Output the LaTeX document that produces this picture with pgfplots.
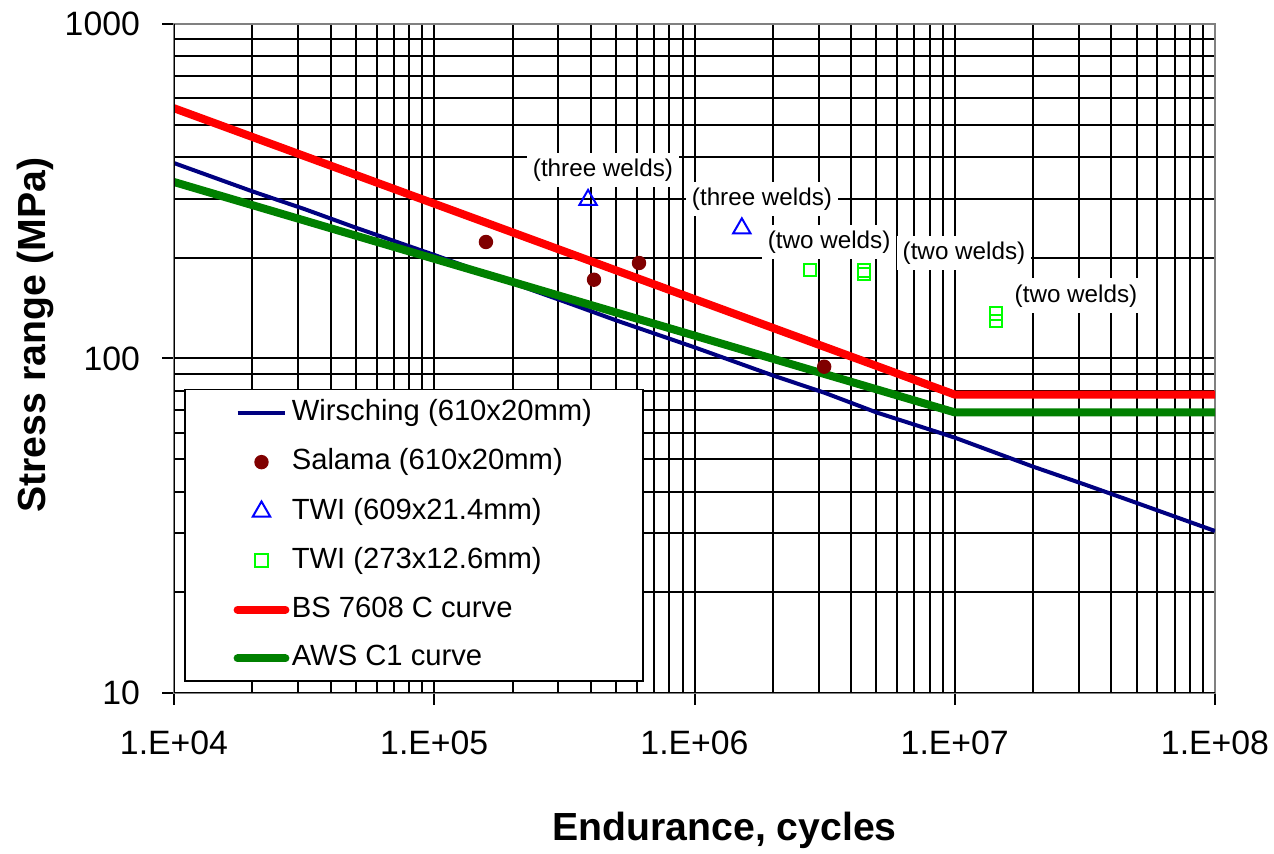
\documentclass[border=0pt]{standalone}
\usepackage{pgfplots}
\pgfplotsset{compat=1.18}
\usepackage{fontspec}
\setmainfont{Liberation Sans}
\definecolor{wirsblue}{HTML}{000080}
\definecolor{salred}{HTML}{800000}
\definecolor{twiblue}{HTML}{0000FF}
\definecolor{twigreen}{HTML}{00FF00}
\definecolor{bsred}{HTML}{FF0000}
\definecolor{awsgreen}{HTML}{008000}
\begin{document}
\begin{tikzpicture}
\useasboundingbox (-43.5pt,-40.25pt) rectangle (275pt,173.25pt);
\begin{axis}[
  scale only axis, width=260.25pt, height=167.25pt,
  at={(0pt,0pt)}, anchor=south west,
  xmode=log, ymode=log,
  xmin=1e4, xmax=1e8, ymin=10, ymax=1000,
  xtick={1e4,1e5,1e6,1e7,1e8},
  xticklabels={1.E+04,1.E+05,1.E+06,1.E+07,1.E+08},
  ytick={10,100,1000}, yticklabels={10,100,1000},
  xtick pos=bottom, ytick pos=left,
  grid=both,
  major grid style={black, line width=0.5pt},
  minor grid style={black, line width=0.5pt},
  tick align=outside, major tick length=3pt, minor tick length=0pt,
  tick style={black, line width=0.5pt},
  axis line style={draw=gray, line width=0.6pt},
  /pgf/number format/assume math mode=true,
  ticklabel style={font=\fontsize{8.45}{10}\selectfont},
  xticklabel style={yshift=-3pt},
  yticklabel style={xshift=-2pt},
  xlabel={Endurance, cycles}, ylabel={Stress range (MPa)},
  label style={font=\fontsize{9.8}{12}\selectfont\bfseries},
  xlabel style={at={(axis description cs:0.529,-0.2048)}, anchor=center},
  ylabel style={at={(axis description cs:-0.1335,0.535)}, anchor=center},
  legend style={at={(axis description cs:0.0096,0.0164)}, anchor=south west,
    draw=black, line width=0.4pt, fill=white,
    font=\fontsize{7.3}{8.5}\selectfont,
    inner xsep=12.2pt, inner ysep=0.4pt, row sep=1.55pt,
    nodes={inner xsep=0.6pt}},
  legend cell align=left,
  legend image code/.code={
    \draw[mark repeat=2, mark phase=2]
      plot coordinates {(0cm,0cm) (0.21cm,0cm) (0.42cm,0cm)};},
]
\addplot[color=wirsblue, line width=1pt] coordinates {
  (1e4,384) (2e4,316) (3.16e4,280) (5e4,246) (1e5,204) (2e5,168) (3.16e5,148)
  (5e5,130) (1e6,108) (2e6,89) (3.16e6,79) (5e6,69) (1e7,58) (2e7,47.5)
  (3.16e7,42) (5e7,37) (1e8,30.5)};
\addlegendentry{Wirsching (610x20mm)}
\addplot[only marks, mark=*, mark size=1.6pt, color=salred] coordinates {
  (1.58e5,223) (4.11e5,172) (6.12e5,193) (3.15e6,94.5)};
\addlegendentry{Salama (610x20mm)}
\addplot[only marks, mark=triangle, mark size=2.5pt, color=twiblue,
  mark options={line width=0.5pt}] coordinates {
  (3.9e5,298) (1.52e6,245)};
\addlegendentry{TWI (609x21.4mm)}
\addplot[only marks, mark=square, mark size=1.6pt, color=twigreen,
  mark options={line width=0.5pt}] coordinates {
  (2.78e6,184) (4.48e6,183) (4.48e6,179) (1.44e7,136) (1.44e7,129.5)};
\addlegendentry{TWI (273x12.6mm)}
\addplot[color=bsred, line width=2pt, line cap=round] coordinates {
  (1e4,560) (1e7,78) (1e8,78)};
\addlegendentry{BS 7608 C curve}
\addplot[color=awsgreen, line width=2pt, line cap=round] coordinates {
  (1e4,337) (1e7,69) (1e8,69)};
\addlegendentry{AWS C1 curve}
\draw[black, line width=0.6pt] (rel axis cs:0,1) -- (rel axis cs:0,0) -- (rel axis cs:1,0);
\begin{scope}[every node/.style={fill=white, inner sep=1.5pt, font=\fontsize{6.06}{7}\selectfont}]
\node at (axis cs:4.45e5,366) {(three welds)};
\node at (axis cs:1.817e6,300) {(three welds)};
\node at (axis cs:3.29e6,223) {(two welds)};
\node at (axis cs:1.085e7,207) {(two welds)};
\node at (axis cs:2.924e7,154) {(two welds)};
\end{scope}
\end{axis}
\end{tikzpicture}
\end{document}
